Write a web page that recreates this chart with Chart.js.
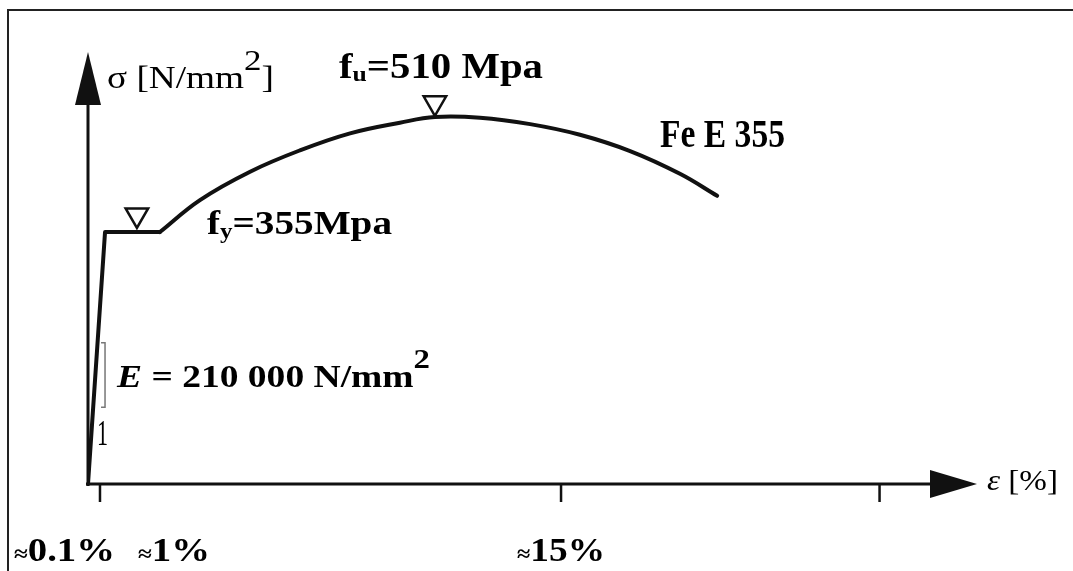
<!DOCTYPE html>
<html>
<head>
<meta charset="utf-8">
<script src="https://cdn.jsdelivr.net/npm/chart.js@4.4.0/dist/chart.umd.min.js"></script>
<style>
  html, body { margin: 0; padding: 0; background: #fff; }
  canvas { display: block; }
</style>
</head>
<body>
<canvas id="stressStrain" width="1073" height="571"></canvas>
<script>
// strain in %, stress in N/mm2
var strainElastic = [0, 0.54, 2.28];
var stressElastic = [0, 355, 355];

var strainHard = [2.28, 3.55, 5.14, 6.72, 8.31, 9.89, 11.0, 12.43, 14.02, 15.6, 17.19, 18.77, 19.95];
var stressHard = [355, 400, 440, 470, 494, 509, 517, 516, 507, 492, 469, 437, 406];

// the two open triangles (yield, ultimate)
var markStrain = [1.55, 11.0];
var markStress = [379, 537];

var epsTicks = [0.38, 15, 25.1];
var epsTickLabels = ['≈0.1%', '≈1%', '≈15%'];

var serif = "'Liberation Serif', 'DejaVu Serif', serif";

function pts(xs, ys) {
    return xs.map(function (x, i) { return { x: x, y: ys[i] }; });
}

// draws a row of text pieces, squeezed / stretched to a given width
function drawRuns(ctx, runs, x, base, width) {
    var total = 0;
    runs.forEach(function (r) {
        ctx.font = r.font;
        r.w = ctx.measureText(r.t).width;
        total += r.w;
    });
    ctx.save();
    ctx.translate(x, base);
    ctx.scale(width / total, 1);
    var cx = 0;
    runs.forEach(function (r) {
        ctx.font = r.font;
        ctx.fillText(r.t, cx, r.dy || 0);
        cx += r.w;
    });
    ctx.restore();
}

var sketchPlugin = {
    id: 'sketch',
    beforeDraw: function (chart) {
        var ctx = chart.ctx;
        ctx.save();
        ctx.fillStyle = '#fff';
        ctx.fillRect(0, 0, chart.width, chart.height);
        // frame
        ctx.strokeStyle = '#222';
        ctx.lineWidth = 2;
        ctx.beginPath();
        ctx.moveTo(8, 571);
        ctx.lineTo(8, 10);
        ctx.lineTo(1073, 10);
        ctx.stroke();
        ctx.restore();
    },
    beforeDatasetsDraw: function (chart) {
        var ctx = chart.ctx;
        var xs = chart.scales.x, ys = chart.scales.y;
        var area = chart.chartArea;
        var x0 = xs.getPixelForValue(0), y0 = ys.getPixelForValue(0);
        ctx.save();
        ctx.strokeStyle = '#111';
        ctx.fillStyle = '#111';
        ctx.lineWidth = 3;
        // sigma axis
        ctx.beginPath();
        ctx.moveTo(x0, y0 + 2);
        ctx.lineTo(x0, area.top + 50);
        ctx.stroke();
        ctx.beginPath();
        ctx.moveTo(x0, area.top);
        ctx.lineTo(x0 - 13, area.top + 53);
        ctx.lineTo(x0 + 13, area.top + 53);
        ctx.closePath();
        ctx.fill();
        // epsilon axis
        ctx.beginPath();
        ctx.moveTo(x0 - 2, y0);
        ctx.lineTo(area.right - 45, y0);
        ctx.stroke();
        ctx.beginPath();
        ctx.moveTo(area.right, y0);
        ctx.lineTo(area.right - 47, y0 - 14);
        ctx.lineTo(area.right - 47, y0 + 14);
        ctx.closePath();
        ctx.fill();
        // tick marks
        ctx.lineWidth = 2.5;
        epsTicks.forEach(function (v) {
            var px = xs.getPixelForValue(v);
            ctx.beginPath();
            ctx.moveTo(px, y0);
            ctx.lineTo(px, y0 + 18);
            ctx.stroke();
        });
        // slope bracket next to the elastic line
        var bx = xs.getPixelForValue(0.54);
        var bt = ys.getPixelForValue(199), bb = ys.getPixelForValue(108);
        ctx.strokeStyle = '#777';
        ctx.lineWidth = 1.5;
        ctx.beginPath();
        ctx.moveTo(bx - 4, bt);
        ctx.lineTo(bx, bt);
        ctx.lineTo(bx, bb);
        ctx.lineTo(bx - 4, bb);
        ctx.stroke();
        ctx.restore();
    },
    afterDraw: function (chart) {
        var ctx = chart.ctx;
        ctx.save();
        ctx.fillStyle = '#000';
        ctx.textBaseline = 'alphabetic';
        ctx.textAlign = 'left';

        drawRuns(ctx, [
            { t: 'σ [N/mm', font: '32px ' + serif },
            { t: '2', font: '30px ' + serif, dy: -18 },
            { t: ']', font: '32px ' + serif }
        ], 107, 88, 167);

        drawRuns(ctx, [
            { t: 'f', font: 'bold 35px ' + serif },
            { t: 'u', font: 'bold 22px ' + serif, dy: 3 },
            { t: '=510 Mpa', font: 'bold 35px ' + serif }
        ], 339, 78, 204);

        drawRuns(ctx, [
            { t: 'f', font: 'bold 33px ' + serif },
            { t: 'y', font: 'bold 21px ' + serif, dy: 4 },
            { t: '=355Mpa', font: 'bold 33px ' + serif }
        ], 207, 234, 185);

        drawRuns(ctx, [
            { t: 'Fe E 355', font: 'bold 40px ' + serif }
        ], 660, 147, 125);

        drawRuns(ctx, [
            { t: 'E', font: 'italic bold 32px ' + serif },
            { t: ' = 210 000 N/mm', font: 'bold 32px ' + serif },
            { t: '2', font: 'bold 28px ' + serif, dy: -19 }
        ], 117, 387, 313);

        drawRuns(ctx, [{ t: '1', font: '36px ' + serif }], 97, 445, 11);

        // strain labels under the axis
        var labelSpots = [[14, 101], [138, 72], [517, 88]];
        epsTickLabels.forEach(function (s, i) {
            drawRuns(ctx, [
                { t: s.charAt(0), font: 'bold 22px ' + serif },
                { t: s.slice(1), font: 'bold 34px ' + serif }
            ], labelSpots[i][0], 561, labelSpots[i][1]);
        });

        drawRuns(ctx, [
            { t: 'ε', font: 'italic 30px ' + serif },
            { t: ' [%]', font: '30px ' + serif }
        ], 987, 490, 71);
        ctx.restore();
    }
};

var ctx = document.getElementById('stressStrain');
var chart = new Chart(ctx, {
    type: 'scatter',
    data: {
        datasets: [{
            label: 'marks',
            data: pts(markStrain, markStress),
            pointStyle: 'triangle',
            rotation: 180,
            pointRadius: 13,
            pointBackgroundColor: '#fff',
            pointBorderColor: '#111',
            pointBorderWidth: 2.5,
            showLine: false
        }, {
            label: 'elastic',
            data: pts(strainElastic, stressElastic),
            showLine: true,
            tension: 0,
            borderColor: '#111',
            borderWidth: 4,
            borderJoinStyle: 'round',
            borderCapStyle: 'round',
            pointRadius: 0
        }, {
            label: 'Fe E 355',
            data: pts(strainHard, stressHard),
            showLine: true,
            tension: 0.4,
            borderColor: '#111',
            borderWidth: 4,
            borderJoinStyle: 'round',
            borderCapStyle: 'round',
            pointRadius: 0
        }]
    },
    options: {
        responsive: false,
        animation: false,
        devicePixelRatio: 1,
        layout: { padding: { left: 88, right: 96, top: 52, bottom: 87 } },
        scales: {
            x: { type: 'linear', min: 0, max: 28.19, display: false },
            y: { type: 'linear', min: 0, max: 608.6, display: false }
        },
        plugins: {
            legend: { display: false },
            tooltip: { enabled: false }
        }
    },
    plugins: [sketchPlugin]
});
</script>
</body>
</html>
